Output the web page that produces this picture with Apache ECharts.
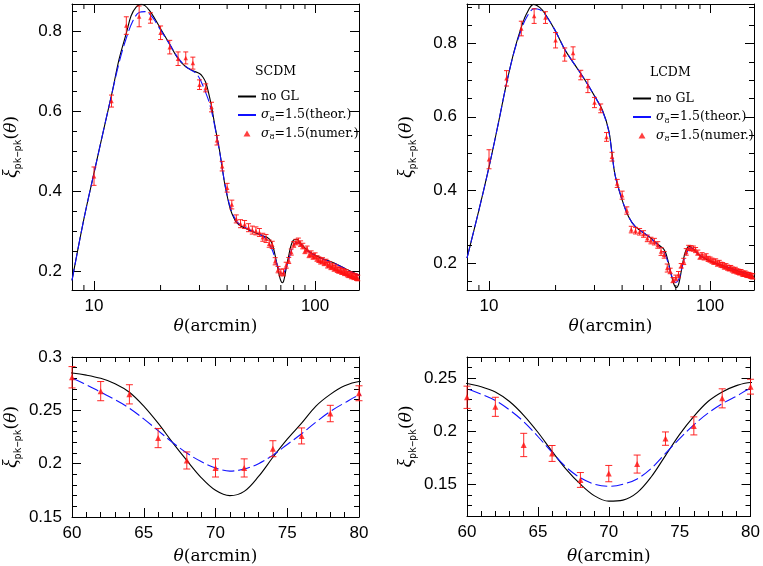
<!DOCTYPE html>
<html>
<head>
<meta charset="utf-8">
<title>xi pk-pk</title>
<script src="https://cdn.jsdelivr.net/npm/echarts@6/dist/echarts.min.js"></script>
<style>
html,body{margin:0;padding:0;background:#fff;}
#main{width:763px;height:566px;}
</style>
</head>
<body>
<div id="main"></div>
<script>
// ---- curves: [theta(arcmin), xi] ----
var scdmNoGL = [[7.95,0.176],[9,0.33],[10,0.445],[11,0.548],[12,0.640],[13,0.731],[14,0.795],[14.7,0.838],[15.5,0.860],[16.3,0.867],[17,0.864],[17.8,0.852],[19,0.828],[20,0.806],[22,0.767],[24,0.731],[26,0.711],[28,0.701],[30,0.694],[31,0.686],[32,0.672],[33,0.645],[34,0.612],[35,0.572],[36,0.535],[37,0.500],[38,0.458],[39,0.418],[40,0.388],[41,0.362],[42,0.344],[44,0.322],[46,0.313],[50,0.303],[55,0.293],[58,0.288],[60,0.285],[61,0.283],[62,0.280],[63,0.275],[64,0.267],[65,0.254],[66,0.238],[67,0.220],[68,0.203],[69,0.187],[70,0.175],[71,0.170],[72,0.174],[73,0.188],[74,0.206],[75,0.223],[76,0.238],[77,0.254],[78,0.265],[79,0.273],[80,0.277],[82.5,0.279],[85,0.272],[88,0.263],[92,0.252],[100,0.239],[110,0.229],[124,0.218],[140,0.203],[158,0.189]];
var scdmTheor = [[7.95,0.176],[9,0.33],[10,0.445],[11,0.548],[12,0.640],[13,0.722],[14,0.783],[15,0.826],[16,0.847],[17,0.849],[18,0.841],[19,0.823],[20,0.803],[22,0.767],[24,0.733],[26,0.712],[28,0.700],[29,0.694],[30,0.682],[31,0.665],[32,0.646],[33,0.626],[34,0.600],[35,0.568],[36,0.533],[37,0.498],[38,0.458],[39,0.420],[40,0.390],[41,0.366],[42,0.348],[44,0.325],[46,0.315],[50,0.304],[55,0.294],[58,0.287],[60,0.280],[61,0.274],[62,0.267],[63,0.260],[64,0.252],[65,0.242],[66,0.231],[67,0.220],[68,0.210],[69,0.202],[70,0.196],[71,0.193],[72,0.195],[73,0.200],[74,0.208],[75,0.218],[76,0.228],[77,0.239],[78,0.249],[79,0.257],[80,0.264],[82,0.271],[84,0.270],[88,0.261],[92,0.251],[100,0.238],[110,0.228],[124,0.217],[140,0.202],[158,0.188]];
var lcdmNoGL = [[7.95,0.214],[9,0.345],[10,0.463],[11,0.58],[12,0.691],[13,0.780],[14,0.845],[14.8,0.882],[15.9,0.907],[17,0.898],[17.9,0.882],[19.9,0.836],[22.1,0.782],[24.5,0.741],[27.2,0.700],[30.2,0.654],[32.6,0.618],[34.8,0.563],[36,0.50],[37.2,0.44],[40,0.373],[42.8,0.327],[45.9,0.300],[52.8,0.273],[58.6,0.250],[60,0.245],[61,0.242],[62,0.237],[63,0.228],[64,0.215],[65,0.199],[66,0.181],[67,0.164],[68,0.150],[69,0.139],[70,0.134],[71,0.135],[72,0.142],[73,0.157],[74,0.177],[75,0.197],[76,0.214],[77,0.228],[78,0.237],[79,0.243],[80,0.246],[82,0.244],[85,0.236],[89,0.223],[95,0.213],[101.5,0.204],[112,0.195],[124,0.186],[140,0.175],[158,0.164]];
var lcdmTheor = [[7.95,0.214],[9,0.345],[10,0.463],[11,0.58],[12,0.691],[13,0.778],[14,0.838],[14.8,0.872],[16,0.895],[17,0.892],[17.9,0.880],[19.9,0.836],[22.1,0.782],[24.5,0.741],[27.2,0.700],[30.2,0.654],[32.6,0.616],[34.8,0.560],[36,0.50],[37.2,0.44],[40,0.373],[42.8,0.327],[45.9,0.300],[52.8,0.273],[58.6,0.247],[60,0.240],[61,0.235],[62,0.229],[63,0.220],[64,0.209],[65,0.195],[66,0.180],[67,0.166],[68,0.156],[69,0.150],[70,0.148],[71,0.150],[72,0.155],[73,0.165],[74,0.179],[75,0.193],[76,0.206],[77,0.217],[78,0.226],[79,0.233],[80,0.240],[82,0.242],[85,0.236],[89,0.223],[95,0.213],[101.5,0.204],[112,0.195],[124,0.186],[140,0.175],[158,0.164]];

// ---- numerical points: [theta, xi, error] ----
var scdmNumer = [[10,0.437,0.023],[12,0.625,0.015],[14,0.814,0.022],[16,0.837,0.026],[18,0.833,0.013],[20,0.796,0.017],[22,0.760,0.017],[24,0.731,0.017],[26,0.733,0.015],[28,0.720,0.015],[30,0.666,0.012],[32,0.658,0.010],[34,0.610,0.012],[36,0.527,0.012],[38,0.462,0.012],[40,0.408,0.011],[42,0.366,0.011],[44,0.330,0.010],[46,0.318,0.010],[48,0.316,0.010],[50,0.308,0.010],[52,0.302,0.010],[54,0.300,0.010],[56,0.296,0.010],[58,0.284,0.010],[60,0.281,0.010],[62,0.268,0.009],[64,0.265,0.009],[66,0.224,0.009],[68,0.203,0.008],[70,0.196,0.0085],[72,0.196,0.0085],[74,0.214,0.0075],[76,0.226,0.0075],[78,0.247,0.0077],[80,0.266,0.007],[82,0.272,0.007],[84,0.275,0.007],[86,0.268,0.007],[88,0.262,0.007],[90,0.250,0.007],[92,0.255,0.007],[94,0.240,0.007],[96,0.243,0.007],[98,0.236,0.007],[100,0.238,0.007],[102,0.231,0.007],[104,0.228,0.007],[106,0.224,0.007],[108,0.226,0.007],[110,0.220,0.007],[112,0.222,0.007],[114,0.214,0.007],[116,0.216,0.007],[118,0.210,0.007],[120,0.212,0.007],[122,0.206,0.007],[124,0.208,0.007],[126,0.203,0.007],[128,0.201,0.007],[130,0.202,0.007],[132,0.198,0.007],[134,0.199,0.007],[136,0.195,0.007],[138,0.196,0.007],[140,0.192,0.007],[142,0.190,0.007],[144,0.191,0.007],[146,0.187,0.007],[148,0.188,0.007],[150,0.185,0.007],[152,0.186,0.007],[154,0.183,0.007],[156,0.182,0.007]];
var lcdmNumer = [[10,0.484,0.026],[12,0.705,0.021],[14,0.841,0.020],[16,0.875,0.020],[18,0.871,0.016],[20,0.809,0.021],[22,0.770,0.018],[24,0.774,0.017],[26,0.714,0.013],[28,0.684,0.018],[30,0.639,0.014],[32,0.623,0.012],[34,0.545,0.012],[36,0.491,0.012],[38,0.418,0.011],[40,0.386,0.011],[42,0.344,0.010],[44,0.292,0.009],[46,0.289,0.009],[48,0.286,0.009],[50,0.280,0.009],[52,0.268,0.009],[54,0.262,0.009],[56,0.259,0.009],[58,0.250,0.009],[60,0.232,0.0105],[62,0.223,0.009],[64,0.187,0.011],[66,0.179,0.0075],[68,0.154,0.007],[70,0.160,0.0077],[72,0.169,0.0085],[74,0.193,0.0063],[76,0.205,0.0085],[78,0.231,0.009],[80,0.242,0.007],[82,0.241,0.007],[84,0.240,0.007],[86,0.236,0.007],[88,0.229,0.007],[90,0.218,0.007],[92,0.222,0.007],[94,0.216,0.007],[96,0.219,0.007],[98,0.212,0.007],[100,0.210,0.007],[102,0.207,0.007],[104,0.204,0.007],[106,0.205,0.007],[108,0.199,0.007],[110,0.201,0.007],[112,0.196,0.007],[114,0.195,0.007],[116,0.191,0.007],[118,0.192,0.007],[120,0.188,0.007],[122,0.186,0.007],[124,0.187,0.007],[126,0.183,0.007],[128,0.180,0.007],[130,0.182,0.007],[132,0.178,0.007],[134,0.177,0.007],[136,0.175,0.007],[138,0.176,0.007],[140,0.172,0.007],[142,0.171,0.007],[144,0.172,0.007],[146,0.169,0.007],[148,0.168,0.007],[150,0.168,0.007],[152,0.166,0.007],[154,0.165,0.007],[156,0.164,0.007]];

// ---- tick values ----
var logMinorTicks = [9, 20, 30, 40, 50, 60, 70, 80, 90];
var topYMajor = [0.2, 0.4, 0.6, 0.8];
var scdmYMinor = [0.15, 0.25, 0.3, 0.35, 0.45, 0.5, 0.55, 0.65, 0.7, 0.75, 0.85];
var lcdmYMinor = [0.15, 0.25, 0.3, 0.35, 0.45, 0.5, 0.55, 0.65, 0.7, 0.75, 0.85, 0.9];
var zoomXMajor = [60, 65, 70, 75, 80];
var zoomXMinor = [61, 62, 63, 64, 66, 67, 68, 69, 71, 72, 73, 74, 76, 77, 78, 79];
var scdmZoomYMajor = [0.15, 0.2, 0.25, 0.3];
var scdmZoomYMinor = [0.16, 0.17, 0.18, 0.19, 0.21, 0.22, 0.23, 0.24, 0.26, 0.27, 0.28, 0.29];
var lcdmZoomYMajor = [0.15, 0.2, 0.25];
var lcdmZoomYMinor = [0.12, 0.13, 0.14, 0.16, 0.17, 0.18, 0.19, 0.21, 0.22, 0.23, 0.24, 0.26, 0.27];

var legendText = {
	'no GL': 'no GL',
	'theor': '{s|σ}{b|8}=1.5(theor.)',
	'numer': '{s|σ}{b|8}=1.5(numer.)'
};

var TICK_FONT = 'Liberation Sans';
var SERIF = 'DejaVu Serif';
var BLUE = '#1010ff';
var RED = '#ff1010';

var panels = [
	{grid:{left:72, top:4, width:287, height:286}, xLog:true, xMin:7.95, xMax:158, yMin:0.152, yMax:0.868, nameGap:28,
	 yMajor:topYMajor, yMinor:scdmYMinor, noGL:scdmNoGL, theor:scdmTheor, numer:scdmNumer, sym:4.5, cap:2.5},
	{grid:{left:467, top:4, width:287, height:286}, xLog:true, xMin:7.95, xMax:158, yMin:0.127, yMax:0.908, nameGap:28,
	 yMajor:topYMajor, yMinor:lcdmYMinor, noGL:lcdmNoGL, theor:lcdmTheor, numer:lcdmNumer, sym:4.5, cap:2.5},
	{grid:{left:72, top:357, width:287, height:164}, xLog:false, xMin:60, xMax:80, yMin:0.15, yMax:0.3, nameGap:31,
	 xMajor:zoomXMajor, xMinor:zoomXMinor, yMajor:scdmZoomYMajor, yMinor:scdmZoomYMinor,
	 noGL:scdmNoGL, theor:scdmTheor, numer:scdmNumer, sym:6, cap:3.5},
	{grid:{left:467, top:357, width:287, height:162}, xLog:false, xMin:60, xMax:80, yMin:0.12, yMax:0.27, nameGap:32,
	 xMajor:zoomXMajor, xMinor:zoomXMinor, yMajor:lcdmZoomYMajor, yMinor:lcdmZoomYMinor,
	 noGL:lcdmNoGL, theor:lcdmTheor, numer:lcdmNumer, sym:6, cap:3.5}
];

var xAxes = [], yAxes = [], series = [];

function lineOpt() {
	return {onZero:false, lineStyle:{color:'#000', width:1}};
}
function tickOpt(len, vals) {
	var t = {show:true, inside:true, length:len, lineStyle:{color:'#000', width:1}};
	if (vals) t.customValues = vals;
	return t;
}
function labelOpt(vals, margin) {
	var l = {color:'#000', fontFamily:TICK_FONT, fontSize:17, margin:margin,
		showMinLabel:false, showMaxLabel:false, formatter:function(v){ return String(v); }};
	if (vals) { l.customValues = vals; l.showMinLabel = null; l.showMaxLabel = null; }
	return l;
}

//x坐标轴
function buildX(p, gi) {
	var main = {gridIndex:gi, position:'bottom', min:p.xMin, max:p.xMax, splitLine:{show:false},
		axisLine:lineOpt(), axisTick:tickOpt(9, p.xLog ? null : p.xMajor),
		axisLabel:labelOpt(p.xLog ? null : p.xMajor, 8),
		name:'{i|θ}(arcmin)', nameLocation:'middle', nameGap:p.nameGap, nameMoveOverlap:false,
		nameTextStyle:{color:'#000', fontFamily:SERIF, fontSize:17,
			rich:{i:{fontStyle:'italic', fontFamily:SERIF, fontSize:17, color:'#000'}}}};
	if (p.xLog) { main.type = 'log'; main.logBase = 10; main.axisLabel.formatter = null; }
	else main.type = 'value';
	var idx = xAxes.length;
	xAxes.push(main);
	var top = {gridIndex:gi, position:'top', type:main.type, min:p.xMin, max:p.xMax, splitLine:{show:false},
		axisLine:lineOpt(), axisTick:tickOpt(9, p.xLog ? null : p.xMajor), axisLabel:{show:false}};
	if (p.xLog) top.logBase = 10;
	xAxes.push(top);
	if (!p.xLog) {
		['bottom', 'top'].forEach(function(pos){
			xAxes.push({gridIndex:gi, position:pos, type:'value', min:p.xMin, max:p.xMax, splitLine:{show:false},
				axisLine:{show:false}, axisTick:tickOpt(5, p.xMinor), axisLabel:{show:false}});
		});
	}
	return idx;
}

//y坐标轴
function buildY(p, gi) {
	var idx = yAxes.length;
	yAxes.push({gridIndex:gi, type:'value', position:'left', min:p.yMin, max:p.yMax, splitLine:{show:false},
		axisLine:lineOpt(), axisTick:tickOpt(9, p.yMajor), axisLabel:labelOpt(p.yMajor, 10),
		name:'{x|ξ}{s|pk−pk}({i|θ})', nameLocation:'middle', nameGap:49, nameRotate:90, nameMoveOverlap:false,
		nameTextStyle:{color:'#000', fontFamily:SERIF, fontSize:17,
			rich:{x:{fontStyle:'italic', fontFamily:'Liberation Serif', fontSize:20, color:'#000', lineHeight:22},
				s:{fontFamily:'DejaVu Sans Mono', fontSize:10, color:'#000', verticalAlign:'bottom', lineHeight:12},
				i:{fontStyle:'italic', fontFamily:SERIF, fontSize:17, color:'#000'}}}});
	yAxes.push({gridIndex:gi, type:'value', position:'right', min:p.yMin, max:p.yMax, splitLine:{show:false},
		axisLine:lineOpt(), axisTick:tickOpt(9, p.yMajor), axisLabel:{show:false}});
	['left', 'right'].forEach(function(pos){
		yAxes.push({gridIndex:gi, type:'value', position:pos, min:p.yMin, max:p.yMax, splitLine:{show:false},
			axisLine:{show:false}, axisTick:tickOpt(5, p.yMinor), axisLabel:{show:false}});
	});
	return idx;
}

//误差棒
function errorBars(cap) {
	return function (params, api) {
		var x = api.value(0), y = api.value(1), e = api.value(2);
		var hi = api.coord([x, y + e]);
		var lo = api.coord([x, y - e]);
		var st = {stroke:RED, lineWidth:1, opacity:0.9};
		return {type:'group', children:[
			{type:'line', shape:{x1:hi[0], y1:hi[1], x2:lo[0], y2:lo[1]}, style:st},
			{type:'line', shape:{x1:hi[0]-cap, y1:hi[1], x2:hi[0]+cap, y2:hi[1]}, style:st},
			{type:'line', shape:{x1:lo[0]-cap, y1:lo[1], x2:lo[0]+cap, y2:lo[1]}, style:st}
		]};
	};
}

//对数轴次刻度
function logMinorItem(params, api) {
	var cs = params.coordSys;
	var px = api.coord([api.value(0), api.value(1)])[0];
	var st = {stroke:'#000', lineWidth:1};
	return {type:'group', children:[
		{type:'line', shape:{x1:px, y1:cs.y+cs.height, x2:px, y2:cs.y+cs.height-5}, style:st},
		{type:'line', shape:{x1:px, y1:cs.y, x2:px, y2:cs.y+5}, style:st}
	]};
}

var grids = [];
panels.forEach(function (p, gi) {
	grids.push(p.grid);
	var xi = buildX(p, gi);
	var yi = buildY(p, gi);
	var pts = p.numer.filter(function(d){ return d[0] >= p.xMin && d[0] <= p.xMax; });
	series.push({name:'no GL', type:'line', xAxisIndex:xi, yAxisIndex:yi, data:p.noGL, symbol:'none',
		smooth:0.35, lineStyle:{color:'#000', width:1.1}, itemStyle:{color:'#000'}, z:2});
	series.push({name:'theor', type:'line', xAxisIndex:xi, yAxisIndex:yi, data:p.theor, symbol:'none',
		smooth:0.35, lineStyle:{color:BLUE, width:1.1, type:[12, 4]}, itemStyle:{color:BLUE}, z:3});
	series.push({type:'custom', xAxisIndex:xi, yAxisIndex:yi, data:pts, renderItem:errorBars(p.cap),
		encode:{x:0, y:1}, z:4, silent:true});
	series.push({name:'numer', type:'scatter', xAxisIndex:xi, yAxisIndex:yi, symbol:'triangle', symbolSize:p.sym,
		symbolKeepAspect:true, data:pts.map(function(d){ return [d[0], d[1]]; }), itemStyle:{color:RED}, z:5});
	if (p.xLog) {
		series.push({type:'custom', xAxisIndex:xi, yAxisIndex:yi, renderItem:logMinorItem, silent:true, z:6,
			data:logMinorTicks.map(function(v){ return [v, p.yMin]; })});
	}
});

function legendFor(left, top) {
	var hide = {color:'rgba(0,0,0,0)', borderColor:'rgba(0,0,0,0)', borderWidth:0};
	return {left:left, top:top, orient:'vertical', itemWidth:18, itemHeight:6, itemGap:3.5, selectedMode:false,
		symbolKeepAspect:true,
		data:[{name:'no GL', itemStyle:hide}, {name:'theor', itemStyle:hide, lineStyle:{type:'solid'}},
			{name:'numer', icon:'path://M0,5 L2.9,0 L5.8,5 Z'}],
		formatter:function(n){ return legendText[n]; },
		textStyle:{color:'#000', fontFamily:SERIF, fontSize:12.5, lineHeight:15,
			rich:{s:{fontStyle:'italic', fontFamily:SERIF, fontSize:12.5, color:'#000'},
				b:{fontFamily:SERIF, fontSize:8, color:'#000', verticalAlign:'bottom', lineHeight:9}}}};
}

var myChart = echarts.init(document.getElementById('main'));
var option = {
	animation:false,
	backgroundColor:'#fff',
	grid:grids,
	xAxis:xAxes,
	yAxis:yAxes,
	legend:[legendFor(232, 84), legendFor(627, 86)],
	graphic:[
		{type:'text', left:255, top:65, style:{text:'SCDM', font:'12.5px "DejaVu Serif"', fill:'#000'}},
		{type:'text', left:650, top:66, style:{text:'LCDM', font:'12.5px "DejaVu Serif"', fill:'#000'}}
	],
	series:series
};
myChart.setOption(option);
window.addEventListener('resize', function(){ myChart.resize(); });
</script>
</body>
</html>
